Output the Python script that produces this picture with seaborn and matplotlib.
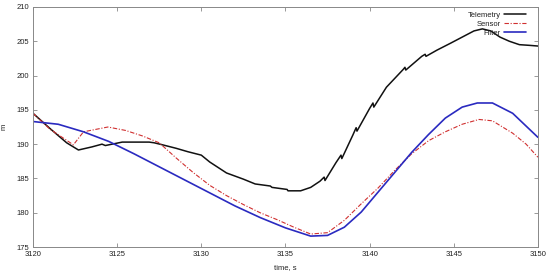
import matplotlib
matplotlib.use("Agg")
import matplotlib.pyplot as plt
import seaborn as sns

# Telemetry (black)
tel_t = [3120, 3121, 3122, 3122.7, 3123.5, 3124.1, 3124.3, 3125.3, 3126.9, 3127.2,
         3127.7, 3128.5, 3129.2, 3130, 3130.5, 3131.5, 3132.5, 3133.2, 3134.1, 3134.2,
         3135.1, 3135.15, 3135.9, 3136.5, 3137.05, 3137.3, 3137.35, 3138.0, 3138.3, 3138.35,
         3139.0, 3139.2, 3139.25, 3140.0, 3140.2, 3140.25, 3141.0, 3142.0, 3142.1, 3142.15,
         3143.1, 3143.3, 3143.35, 3144.0, 3144.8, 3145.5, 3146.2, 3146.7, 3147.2, 3147.75,
         3148.3, 3148.9, 3149.5, 3150]
tel_v = [194.5, 192.3, 190.2, 189.15, 189.6, 190.0, 189.8, 190.3, 190.3, 190.2,
         189.9, 189.4, 188.9, 188.4, 187.4, 185.8, 184.9, 184.2, 183.9, 183.7,
         183.4, 183.2, 183.2, 183.7, 184.6, 185.2, 184.7, 187.3, 188.4, 187.9,
         191.3, 192.4, 191.9, 195.2, 196.0, 195.4, 198.3, 200.9, 201.2, 200.8,
         202.8, 203.1, 202.8, 203.7, 204.7, 205.6, 206.5, 206.8, 206.5, 205.6,
         205.0, 204.5, 204.4, 204.3]

# Sensor (red dash-dot)
sen_t = [3120, 3121, 3122.4, 3123, 3124.45, 3125.5, 3126.5, 3127.5, 3128.5, 3129.5,
         3130.5, 3131.5, 3132.5, 3133.5, 3134.5, 3135.5, 3136.5, 3137.5, 3138.5, 3139.5,
         3140.5, 3141.5, 3142.5, 3143.5, 3144.5, 3145.5, 3146.5, 3147.3, 3148.5, 3149.3,
         3150]
sen_v = [194.5, 192.2, 189.9, 191.8, 192.5, 192.0, 191.2, 190.2, 188.0, 185.9,
         184.0, 182.5, 181.2, 180.0, 179.0, 177.9, 176.9, 177.1, 178.9, 181.3,
         183.6, 186.2, 188.6, 190.5, 191.8, 192.9, 193.6, 193.4, 191.6, 190.0,
         188.1]

# Filter (blue)
fil_t = [3120, 3121.5, 3123, 3124.5, 3126, 3127.5, 3129, 3130.5, 3132, 3133.5, 3135,
         3136.5, 3137.5, 3138.5, 3139.5, 3140.5, 3141.5, 3142.5, 3143.5, 3144.5, 3145.5,
         3146.4, 3147.3, 3148.5, 3150]
fil_v = [193.3, 192.9, 191.8, 190.4, 188.6, 186.7, 184.8, 182.9, 181.0, 179.3, 177.8,
         176.6, 176.7, 177.9, 180.1, 183.0, 185.9, 188.8, 191.4, 193.8, 195.4,
         196.0, 196.0, 194.5, 191.0]

x_ticks = [3120, 3125, 3130, 3135, 3140, 3145, 3150]
y_ticks = [175, 180, 185, 190, 195, 200, 205, 210]

sns.set_style("ticks")
plt.rcParams['font.family'] = ['Liberation Sans', 'DejaVu Sans']
plt.rcParams['font.size'] = 5.5

fig = plt.figure(figsize=(5.5, 2.77), dpi=100)
ax = fig.add_axes([0.06, 0.108, 0.918, 0.867])

sns.lineplot(x=tel_t, y=tel_v, ax=ax, color='#111111', lw=1.1, label='Telemetry',
             sort=False, estimator=None)
sns.lineplot(x=sen_t, y=sen_v, ax=ax, color='#d03030', lw=0.8, label='Sensor',
             sort=False, estimator=None)
ax.lines[-1].set_linestyle((0, (4, 1.5, 1, 1.5)))
sns.lineplot(x=fil_t, y=fil_v, ax=ax, color='#2a2ac0', lw=1.2, label='Filter',
             sort=False, estimator=None)

ax.set_xlim(3120, 3150)
ax.set_ylim(175, 210)
ax.set_xticks(x_ticks)
ax.set_yticks(y_ticks)
ax.tick_params(direction='in', length=3, width=0.6, top=True, right=True,
               colors='#888888', labelcolor='#222222', labelsize=5.5, pad=3)
for s in ax.spines.values():
    s.set_color('#888888')
    s.set_linewidth(0.7)
ax.set_xlabel('time, s', fontsize=5.5, color='#222222', labelpad=4)
ax.set_ylabel('m', fontsize=5.5, color='#222222')
ax.yaxis.set_label_coords(-0.05, 0.5)

leg = ax.legend(loc='upper right', frameon=False, markerfirst=False,
                handlelength=2.9, handletextpad=0.4, labelspacing=0.2,
                borderaxespad=0.2, fontsize=5.5, bbox_to_anchor=(0.985, 1.0))
for t in leg.get_texts():
    t.set_ha('right')
    t.set_color('#222222')

fig.savefig('out.png', dpi=100)
